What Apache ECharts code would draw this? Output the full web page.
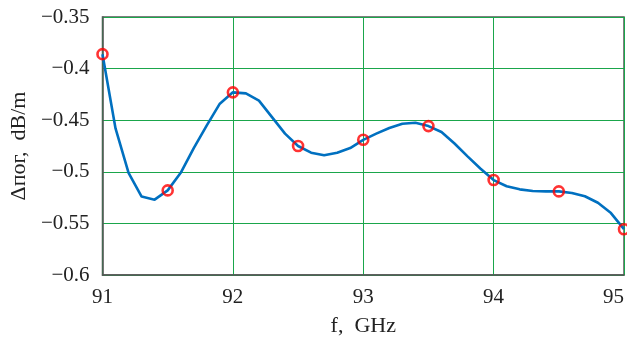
<!DOCTYPE html>
<html>
<head>
<meta charset="utf-8">
<script src="https://cdn.jsdelivr.net/npm/echarts@6/dist/echarts.min.js"></script>
<style>html,body{margin:0;padding:0;background:#fff}#c{width:627px;height:342px}</style>
</head>
<body>
<div id="c"></div>
<script>
var freq = [91.0,91.1,91.2,91.3,91.4,91.5,91.6,91.7,91.8,91.9,92.0,92.1,92.2,92.3,92.4,92.5,92.6,92.7,92.8,92.9,93.0,93.1,93.2,93.3,93.4,93.5,93.6,93.7,93.8,93.9,94.0,94.1,94.2,94.3,94.4,94.5,94.6,94.7,94.8,94.9,95.0];
var loss = [-0.386,-0.458,-0.501,-0.524,-0.527,-0.518,-0.501,-0.477,-0.455,-0.434,-0.423,-0.424,-0.431,-0.447,-0.463,-0.475,-0.4815,-0.484,-0.4815,-0.477,-0.469,-0.463,-0.4576,-0.4534,-0.4525,-0.4557,-0.4614,-0.4726,-0.485,-0.497,-0.508,-0.514,-0.517,-0.5186,-0.519,-0.519,-0.5205,-0.5237,-0.530,-0.540,-0.5556];
var markFreq = [91.0,91.5,92.0,92.5,93.0,93.5,94.0,94.5,95.0];
var markLoss = [-0.386,-0.518,-0.423,-0.475,-0.469,-0.4557,-0.508,-0.519,-0.5556];
var xTicks = [91,92,93,94,95];
var yTicks = [-0.6,-0.55,-0.5,-0.45,-0.4,-0.35];

function pairs(a,b){return a.map(function(v,i){return [v,b[i]];});}
var font = "'Liberation Serif','DejaVu Serif',serif";
var chart = echarts.init(document.getElementById('c'));
chart.setOption({
  animation:false,
  grid:{left:96,right:2,top:17,bottom:64,show:true,borderColor:'#555',borderWidth:1.5,containLabel:false},
  xAxis:{type:'value',min:91,max:95,interval:1,
    name:'f,  GHz',nameLocation:'middle',nameGap:40,
    nameTextStyle:{fontFamily:font,fontSize:22,color:'#222'},
    axisLine:{show:true,lineStyle:{color:'#555',width:1.5}},
    axisTick:{show:false},
    axisLabel:{fontFamily:font,fontSize:21,color:'#222',margin:12,alignMaxLabel:'right',
      formatter:function(v){return xTicks.indexOf(v)>=0?String(v):'';}},
    splitLine:{show:true,lineStyle:{color:'#1aa64b',width:1}}
  },
  yAxis:{type:'value',min:-0.6,max:-0.35,interval:0.05,
    name:'\u0394\u043f\u043e\u0433,  dB/m',nameLocation:'middle',nameGap:70,
    nameTextStyle:{fontFamily:font,fontSize:22,color:'#222'},
    axisLine:{show:true,lineStyle:{color:'#555',width:1.5}},
    axisTick:{show:false},
    axisLabel:{fontFamily:font,fontSize:21,color:'#222',margin:13,
      formatter:function(v){var t=yTicks.find(function(k){return Math.abs(k-v)<1e-9;});return t===undefined?'':String(t).replace('-','\u2212');}},
    splitLine:{show:true,lineStyle:{color:'#1aa64b',width:1}}
  },
  series:[
    {type:'line',data:pairs(freq,loss),showSymbol:false,symbol:'none',smooth:false,
      lineStyle:{color:'#0070c0',width:2.6},z:2},
    {type:'scatter',data:pairs(markFreq,markLoss),symbol:'circle',symbolSize:10,
      itemStyle:{color:'rgba(255,255,255,0)',borderColor:'#ff0000',borderWidth:2.6},z:3}
  ]
});
</script>
</body>
</html>
